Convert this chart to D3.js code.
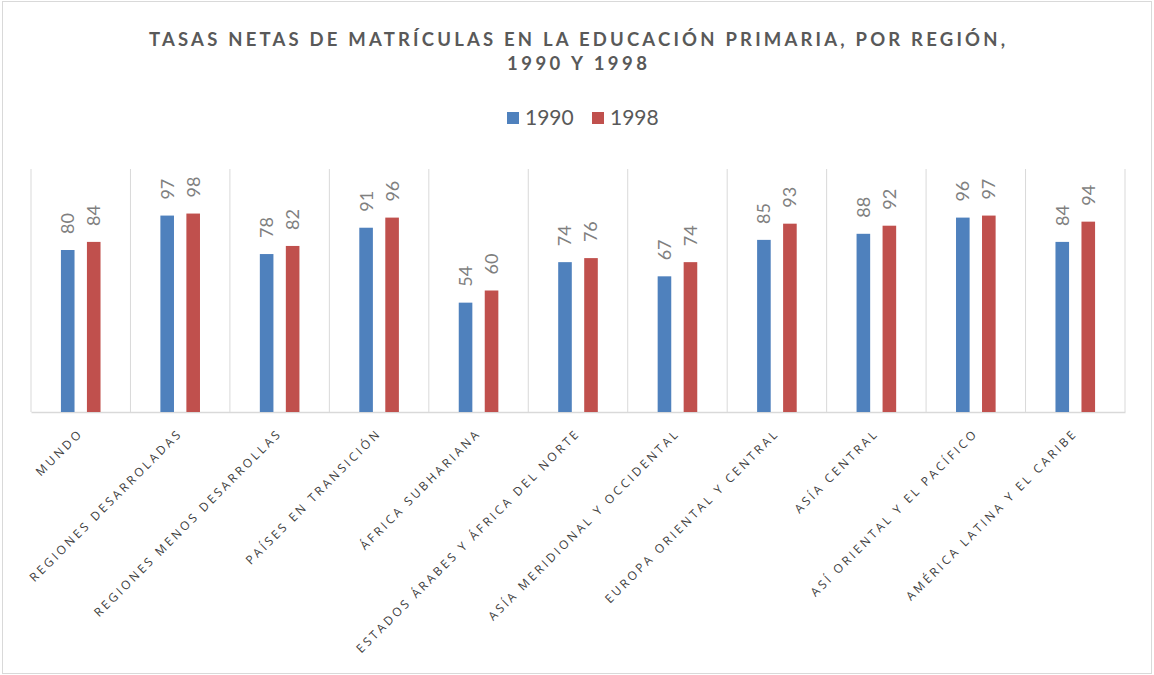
<!DOCTYPE html>
<html><head><meta charset="utf-8">
<script src="https://cdn.jsdelivr.net/npm/d3@7"></script>
<style>body{margin:0;background:#fff;} svg{display:block;}</style>
</head><body><svg id="c" width="1154" height="675"></svg>
<script>
const categories = [
  "MUNDO",
  "REGIONES DESARROLADAS",
  "REGIONES MENOS DESARROLLAS",
  "PAÍSES EN TRANSICIÓN",
  "ÁFRICA SUBHARIANA",
  "ESTADOS ÁRABES Y ÁFRICA DEL NORTE",
  "ASÍA MERIDIONAL Y OCCIDENTAL",
  "EUROPA ORIENTAL Y CENTRAL",
  "ASÍA CENTRAL",
  "ASÍ ORIENTAL Y EL PACÍFICO",
  "AMÉRICA LATINA Y EL CARIBE"
];
const values1990 = [80, 97, 78, 91, 54, 74, 67, 85, 88, 96, 84];
const values1998 = [84, 98, 82, 96, 60, 76, 74, 93, 92, 97, 94];
const seriesNames = ["1990", "1998"];
const seriesColors = ["#4F81BD", "#C0504D"];
const titleLines = ["TASAS NETAS DE MATRÍCULAS EN LA EDUCACIÓN PRIMARIA, POR REGIÓN,", "1990 Y 1998"];
const yDomain = [0, 120];

const W = 1154, H = 675;
const svg = d3.select("#c");
const plot = {left: 31, right: 1125, top: 169, bottom: 412};

// outer border
svg.append("rect").attr("x", 2.5).attr("y", 1.5).attr("width", W - 5).attr("height", H - 3)
  .attr("fill", "#fff").attr("stroke", "#d9d9d9").attr("stroke-width", 1);

// title
const titleWidths = [856, 140];
const titleY = [46, 70];
titleLines.forEach((t, i) => {
  svg.append("text").attr("x", 577).attr("y", titleY[i]).attr("text-anchor", "middle")
    .attr("font-family", "Lato, 'Open Sans', sans-serif").attr("font-weight", "bold")
    .attr("font-size", 18.5).attr("fill", "#595959")
    .attr("textLength", titleWidths[i]).attr("lengthAdjust", "spacing")
    .text(t);
});

// legend
const legendX = [507, 592];
seriesNames.forEach((s, i) => {
  svg.append("rect").attr("x", legendX[i]).attr("y", 112).attr("width", 12).attr("height", 12)
    .attr("fill", seriesColors[i]);
  svg.append("text").attr("x", legendX[i] + 18).attr("y", 125)
    .attr("font-family", "Lato, 'Open Sans', sans-serif").attr("font-size", 21)
    .attr("fill", "#595959").text(s);
});

const x0 = d3.scaleBand().domain(categories).range([plot.left, plot.right]).paddingInner(0).paddingOuter(0);
const x1 = d3.scaleBand().domain(seriesNames).range([0, x0.bandwidth()]).paddingInner(0.477).paddingOuter(1.151);
const y = d3.scaleLinear().domain(yDomain).range([plot.bottom, plot.top]);

// vertical gridlines at category boundaries
const bounds = categories.map(c => x0(c)).concat([plot.right]);
svg.append("g").selectAll("line").data(bounds).join("line")
  .attr("x1", d => d).attr("x2", d => d).attr("y1", plot.top).attr("y2", plot.bottom)
  .attr("stroke", "#d9d9d9").attr("stroke-width", 1);

// baseline axis
const xAxis = d3.axisBottom(x0).tickSize(0).tickFormat("");
const ax = svg.append("g").attr("transform", `translate(0,${plot.bottom})`).call(xAxis);
ax.select(".domain").attr("stroke", "#d9d9d9").attr("stroke-width", 1.5);

const data = categories.map((c, i) => ({cat: c, vals: [values1990[i], values1998[i]]}));

const groups = svg.append("g").selectAll("g").data(data).join("g")
  .attr("transform", d => `translate(${x0(d.cat)},0)`);

groups.selectAll("rect").data(d => d.vals.map((v, j) => ({s: seriesNames[j], v, j}))).join("rect")
  .attr("x", d => x1(d.s)).attr("width", x1.bandwidth())
  .attr("y", d => y(d.v)).attr("height", d => y(0) - y(d.v))
  .attr("fill", d => seriesColors[d.j]);

groups.selectAll("text.val").data(d => d.vals.map((v, j) => ({s: seriesNames[j], v, j}))).join("text")
  .attr("class", "val")
  .attr("transform", d => `translate(${x1(d.s) + x1.bandwidth() / 2},${y(d.v) - 16}) rotate(-90)`)
  .attr("dy", "0.36em")
  .attr("font-family", "Lato, 'Open Sans', sans-serif").attr("font-size", 18)
  .attr("fill", "#7f7f7f").text(d => d.v);

// category labels
svg.append("g").selectAll("text").data(categories).join("text")
  .attr("transform", d => `translate(${x0(d) + x0.bandwidth() / 2 + 3},434) rotate(-45)`)
  .attr("text-anchor", "end")
  .attr("font-family", "'Open Sans', sans-serif").attr("font-size", 12)
  .attr("letter-spacing", "2.8px")
  .attr("fill", "#404040").text(d => d);
</script>
</body></html>
